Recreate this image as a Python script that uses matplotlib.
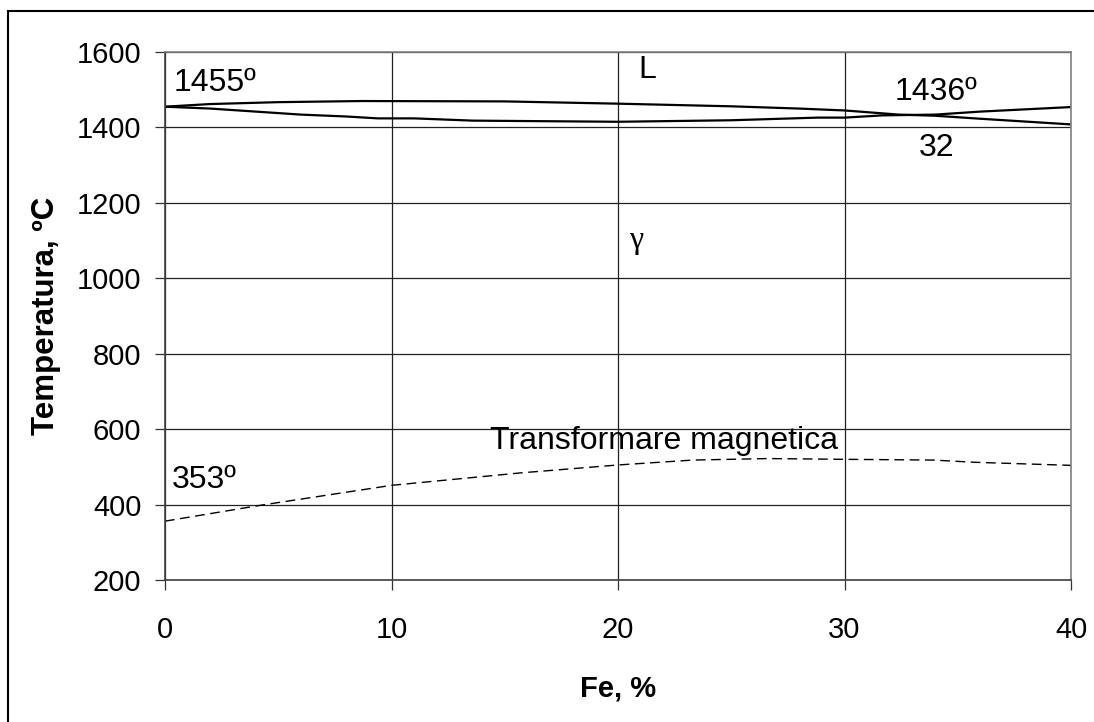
import matplotlib
matplotlib.use("Agg")
import matplotlib.pyplot as plt
from matplotlib.patches import Rectangle

# liquidus (upper solid curve)
liq_x = [0, 2, 5, 8.7, 15, 20, 25, 28, 30, 32.4, 34, 36, 40]
liq_t = [1455, 1462, 1467, 1470, 1469, 1463, 1456, 1450, 1445, 1434, 1431, 1423, 1408]

# solidus (lower solid curve)
sol_x = [0, 2, 6, 8, 9.4, 11, 13.6, 20, 25, 28.8, 30, 31.7, 34, 36, 40]
sol_t = [1455, 1450, 1434, 1429, 1424, 1424, 1418, 1415, 1419, 1426, 1426, 1432, 1434, 1442, 1454]

# magnetic transformation (dashed)
mag_x = [0, 4.2, 10, 15.7, 20, 23.3, 26.6, 30, 33.9, 35.8, 40]
mag_t = [356, 398, 451, 484, 505, 518, 522, 520, 518, 512, 504]

x_ticks = [0, 10, 20, 30, 40]
y_ticks = [200, 400, 600, 800, 1000, 1200, 1400, 1600]

plt.rcParams["font.family"] = ["Liberation Sans", "DejaVu Sans"]

W, H = 1094, 722
fig = plt.figure(figsize=(W / 100, H / 100), dpi=100)
ax = fig.add_axes([165 / W, 1 - 580 / H, (1071 - 165) / W, (580 - 52) / H])

ax.plot(liq_x, liq_t, color="black", lw=1.6)
ax.plot(sol_x, sol_t, color="black", lw=1.6)
ax.plot(mag_x, mag_t, color="black", lw=1.0, dashes=(7, 4))

ax.set_xlim(0, 40)
ax.set_ylim(200, 1600)
ax.set_xticks(x_ticks)
ax.set_yticks(y_ticks)
ax.grid(True, color="#222222", lw=0.9)
ax.set_axisbelow(True)
ax.tick_params(axis="both", direction="out", length=7, width=0.9, colors="#333333",
               labelcolor="black", labelsize=21)
ax.tick_params(axis="x", pad=19)
ax.tick_params(axis="y", pad=10)
for side in ["left", "bottom"]:
    ax.spines[side].set_color("#404040")
    ax.spines[side].set_linewidth(1.2)
for side in ["top", "right"]:
    ax.spines[side].set_color("#808080")
    ax.spines[side].set_linewidth(1.2)

ax.set_xlabel("Fe, %", fontsize=21, fontweight="bold", labelpad=22)
ax.set_ylabel("Temperatura, ºC", fontsize=22.5, fontweight="bold", labelpad=11)

fs = 23
ax.text(0.4, 1519, "1455º", fontsize=fs, va="center", ha="left")
ax.text(20.9, 1552, "L", fontsize=fs, va="center", ha="left")
ax.text(32.2, 1493, "1436º", fontsize=fs, va="center", ha="left")
ax.text(33.3, 1345, "32", fontsize=fs, va="center", ha="left")
ax.text(20.5, 1099, "γ", fontsize=fs, va="center", ha="left",
        family=["Liberation Serif", "DejaVu Serif"])
ax.text(14.35, 568, "Transformare magnetica", fontsize=fs, va="center", ha="left")
ax.text(0.3, 466, "353º", fontsize=fs, va="center", ha="left")

# outer frame
fig.patches.append(Rectangle((8 / W, -0.1), 1.2, 1.1 - 10.5 / H, transform=fig.transFigure,
                             fill=False, edgecolor="black", lw=1.5, clip_on=False))

fig.savefig("out.png", dpi=100)
